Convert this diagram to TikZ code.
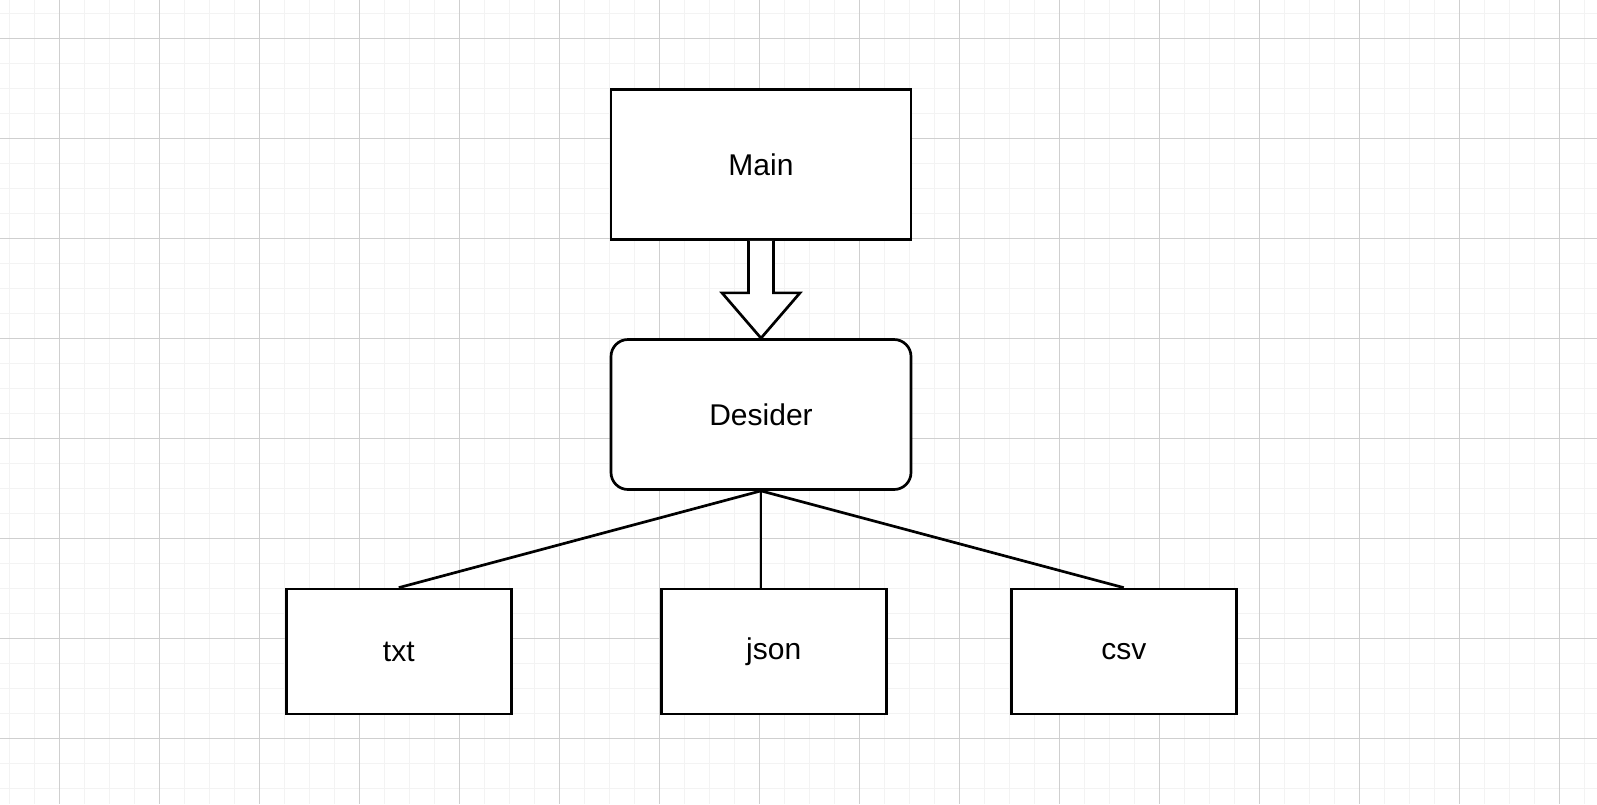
\documentclass[tikz,border=0pt]{standalone}
\usepackage{fontspec}
\setmainfont{Liberation Sans}
\usetikzlibrary{calc}
\definecolor{minorgrid}{HTML}{F3F3F3}
\definecolor{majorgrid}{HTML}{CFCFCF}
\tikzset{
  box/.style={draw=black, line width=2.7pt, fill=white, inner sep=0pt,
    font=\fontsize{30}{36}\selectfont},
  bigbox/.style={box, minimum width=300pt, minimum height=150pt},
  smallbox/.style={box, minimum width=225pt, minimum height=125pt},
  link/.style={draw=black, line width=2.7pt},
  blockarrow/.style={draw=black, line width=2.7pt, fill=white, line join=miter}
}
\begin{document}
\begin{tikzpicture}[x=1pt, y=-1pt]
\useasboundingbox (0,0) rectangle (1597,804);
\fill[white] (0,0) rectangle (1597,804);
% minor grid
\foreach \i in {0,...,63} {
  \draw[minorgrid, line width=1.8pt] (9.5+25*\i,0) -- (9.5+25*\i,804);
}
\foreach \j in {0,...,32} {
  \draw[minorgrid, line width=1.8pt] (0,13.5+25*\j) -- (1597,13.5+25*\j);
}
% major grid
\foreach \i in {0,...,15} {
  \draw[majorgrid, line width=1pt] (59.5+100*\i,0) -- (59.5+100*\i,804);
}
\foreach \j in {0,...,7} {
  \draw[majorgrid, line width=1pt] (0,38.5+100*\j) -- (1597,38.5+100*\j);
}
% nodes
\node[bigbox] (main) at (761,164.5) {Main};
\node[bigbox, rounded corners=17pt] (desider) at (761,414.5) {Desider};
\node[smallbox] (txt) at (398.75,651.5) {txt};
\node[smallbox] (json) at (773.75,651.5) {json};
\node[smallbox] (csv) at (1123.75,651.5) {csv};
% block arrow
\coordinate (a1) at ($(main.south)+(-12.5,0)$);
\coordinate (a2) at ($(main.south)+(12.5,0)$);
\draw[blockarrow] (a1) -- ++(0,52) -- ++(-26.5,0) -- (desider.north)
  -- ($(a2)+(26.5,52)$) -- ($(a2)+(0,52)$) -- (a2);
% connectors
\draw[link] (desider.south) -- (txt.north);
\draw[link] (desider.south) -- (desider.south |- json.north);
\draw[link] (desider.south) -- (csv.north);
\end{tikzpicture}
\end{document}
